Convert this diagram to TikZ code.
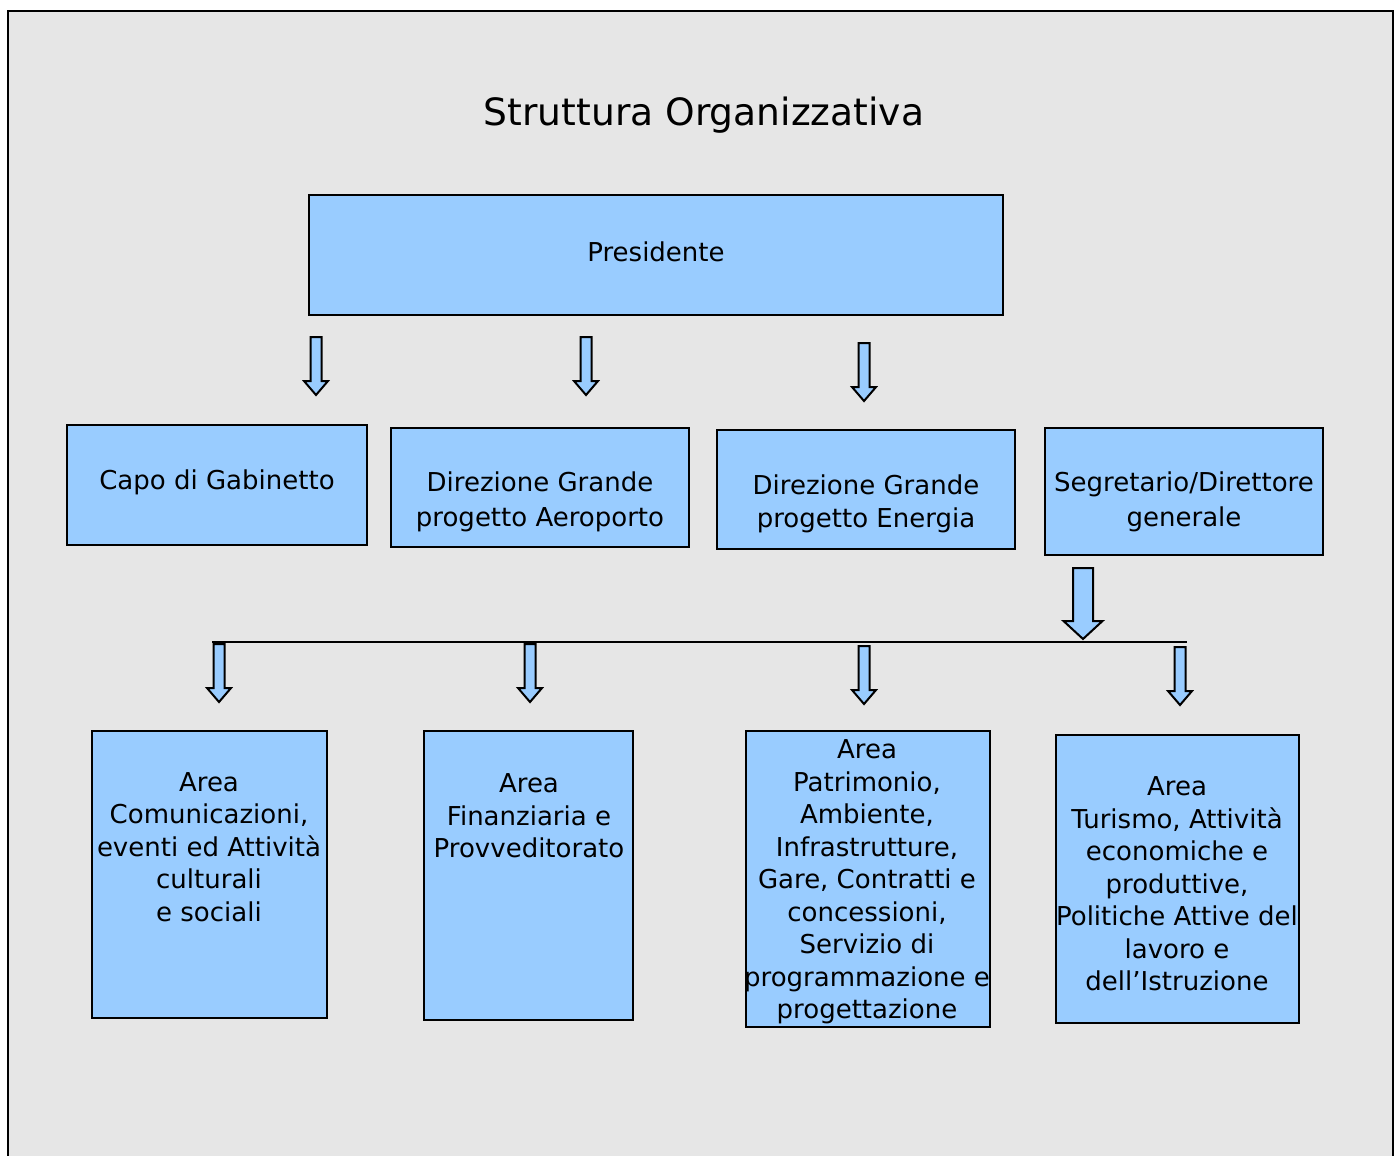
\documentclass[tikz,border=0pt]{standalone}
\usepackage{fontspec}
\setmainfont{DejaVu Sans}
\usetikzlibrary{calc}
\definecolor{boxblue}{HTML}{99CCFF}
\definecolor{paper}{HTML}{E6E6E6}

\begin{document}
\begin{tikzpicture}[x=0.5pt,y=-0.5pt,font=\fontsize{13}{16.25}\selectfont,
  unit/.style={draw=black,line width=1pt,fill=boxblue,inner sep=0pt},
  txt/.style={align=center,inner sep=0pt},
  arrowshape/.style={draw=black,line width=1pt,fill=boxblue,line join=miter},
  smallarrow/.pic={\draw[arrowshape] (-5.5,0) -- (5.5,0) -- (5.5,44) -- (12,44) -- (0,58) -- (-12,44) -- (-5.5,44) -- cycle;},
  bigarrow/.pic={\draw[arrowshape] (-10,0) -- (10,0) -- (10,53) -- (19.5,53) -- (0,71) -- (-19.5,53) -- (-10,53) -- cycle;}]
\useasboundingbox (0,0) rectangle (1399,1156);
% page
\fill[paper] (8,11) rectangle (1393,1156);
\draw[line width=1.2pt] (8,1156) -- (8,11) -- (1393,11) -- (1393,1156);
\node[txt,font=\fontsize{18.8}{22}\selectfont] (title) at (704,115) {Struttura Organizzativa};
% top level
\node[unit,minimum width=347pt,minimum height=60pt] (pres) at (656,255) {};
\node[txt] (presT) at (656,252) {Presidente};
% second level
\node[unit,minimum width=150pt,minimum height=60pt] (capo) at (217,485) {};
\node[unit,minimum width=149pt,minimum height=59.5pt] (aero) at (540,487.5) {};
\node[unit,minimum width=149pt,minimum height=59.5pt] (ener) at (866,489.5) {};
\node[unit,minimum width=139pt,minimum height=63.5pt] (segr) at (1184,491.5) {};
\node[txt] (capoT) at (217,482) {Capo di Gabinetto};
\node[txt] (aeroT) at (540,502) {Direzione Grande\\[1pt]progetto Aeroporto};
\node[txt] (enerT) at (866,504) {Direzione Grande\\progetto Energia};
\node[txt] (segrT) at (1184,502) {Segretario/Direttore\\[1pt]generale};
\pic at (316,337) {smallarrow};
\pic at (586,337) {smallarrow};
\pic at (864,343) {smallarrow};
\pic at (1083,568) {bigarrow};
% areas
\coordinate (busL) at (212,642);
\coordinate (busR) at (1187,642);
\draw[line width=1pt] (busL) -- (busR);
\pic at (219,644) {smallarrow};
\pic at (530,644) {smallarrow};
\pic at (864,646) {smallarrow};
\pic at (1180,647) {smallarrow};
\node[unit,minimum width=117.5pt,minimum height=143.5pt] (comm) at (209.5,874.5) {};
\node[unit,minimum width=104.5pt,minimum height=144.5pt] (fina) at (528.5,875.5) {};
\node[unit,minimum width=122pt,minimum height=148pt] (patr) at (868,879) {};
\node[unit,minimum width=121.5pt,minimum height=144pt] (turi) at (1177.5,879) {};
\node[txt] (commT) at (209,847) {Area\\Comunicazioni,\\eventi ed Attività\\culturali\\e sociali};
\node[txt] (finaT) at (529,816) {Area\\Finanziaria e\\Provveditorato};
\node[txt] (patrT) at (867,882) {Area\\Patrimonio,\\Ambiente,\\Infrastrutture,\\Gare, Contratti e\\concessioni,\\Servizio di\\programmazione e\\progettazione};
\node[txt] (turiT) at (1177,884) {Area\\Turismo, Attività\\economiche e\\produttive,\\Politiche Attive del\\lavoro e\\dell’Istruzione};
\end{tikzpicture}
\end{document}
